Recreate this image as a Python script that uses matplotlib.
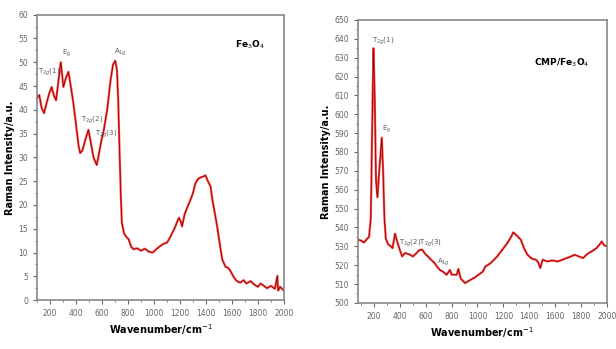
import matplotlib
matplotlib.use("Agg")
import matplotlib.pyplot as plt
from matplotlib.ticker import MultipleLocator

# Fe3O4 spectrum
fe_x = [100, 118, 135, 154, 175, 195, 213, 230, 247, 265, 283, 295, 303, 320, 342, 360,
        380, 400, 420, 432, 450, 470, 496, 515, 535, 560, 575, 595, 612, 640, 665, 685,
        702, 715, 725, 735, 745, 753, 770, 790, 805, 825, 843, 870, 900, 930, 960, 990,
        1010, 1040, 1070, 1101, 1130, 1160, 1191, 1205, 1216, 1235, 1255, 1280, 1300, 1319,
        1340, 1360, 1380, 1396, 1415, 1435, 1450, 1470, 1486, 1505, 1525, 1550, 1570, 1589,
        1610, 1630, 1650, 1666, 1690, 1710, 1744, 1770, 1800, 1820, 1846, 1870, 1900, 1930,
        1949, 1955, 1970, 1988, 2000]
fe_y = [42.5, 43.1, 40.5, 39.3, 41.5, 43.5, 44.8, 43.0, 42.0, 46.0, 50.0, 47.0, 44.8, 46.5,
        48.0, 45.0, 41.4, 37.0, 32.5, 30.9, 31.5, 33.5, 35.8, 33.0, 30.0, 28.4, 30.5, 33.5,
        35.4, 40.0, 46.0, 49.5, 50.3, 48.5, 42.0, 31.6, 22.0, 16.3, 14.0, 13.2, 12.8, 11.2,
        10.7, 10.9, 10.4, 10.8, 10.2, 10.0, 10.5, 11.2, 11.8, 12.1, 13.5, 15.2, 17.3, 16.6,
        15.5, 18.0, 19.4, 21.0, 22.5, 24.6, 25.5, 25.8, 26.0, 26.2, 25.0, 23.9, 21.0, 18.0,
        15.5, 12.0, 8.6, 7.0, 6.8, 6.1, 5.0, 4.2, 3.8, 3.7, 4.2, 3.5, 4.0, 3.3, 2.8, 3.5,
        3.0, 2.5, 3.0, 2.4, 5.1, 2.0, 2.8, 2.3, 2.0]

# CMP/Fe3O4 spectrum
cmp_x = [80, 100, 122, 140, 161, 175, 187, 195, 205, 215, 226, 240, 260, 270, 280, 291,
         310, 330, 343, 362, 382, 400, 417, 440, 461, 480, 500, 530, 550, 573, 595, 617,
         640, 669, 690, 709, 735, 761, 787, 800, 839, 852, 870, 904, 940, 980, 1008, 1040,
         1061, 1100, 1152, 1190, 1231, 1260, 1277, 1300, 1335, 1360, 1387, 1420, 1452, 1470,
         1486, 1504, 1540, 1580, 1622, 1660, 1700, 1752, 1790, 1817, 1850, 1883, 1920, 1945,
         1961, 1980, 2000]
cmp_y = [533.5, 533, 532, 533.5, 535, 545, 600, 635, 610, 565, 556, 570, 587.6, 570, 545,
         534, 531, 530, 529, 536.7, 531.8, 528, 524.6, 526.5, 526, 525.5, 524.6, 526.5, 528,
         528.2, 526, 524.6, 523, 521.1, 519, 517.5, 516.5, 514.9, 517.5, 515, 514.9, 518,
         513, 510.5, 512, 513.5, 515, 516.5, 519.3, 521, 524.6, 528, 531.7, 535, 537.4, 536,
         533.5, 529, 525.5, 523.5, 522.9, 521.5, 518.5, 522.9, 522, 522.5, 522, 523, 524,
         525.5, 524.5, 523.8, 526, 527.3, 529, 531, 532.6, 530.5, 530]

# peak labels
fe_labels = [(110, 47.5, r"T$_{2g}$(1)"), (290, 51.5, r"E$_g$"), (440, 37.5, r"T$_{2g}$(2)"),
             (545, 34.5, r"T$_{2g}$(3)"), (690, 51.8, r"A$_{1g}$")]
cmp_labels = [(185, 638, r"T$_{2g}$(1)"), (260, 591, r"E$_g$"),
              (390, 531, r"T$_{2g}$(2)T$_{2g}$(3)"), (690, 521, r"A$_{1g}$")]

fig = plt.figure(figsize=(6.16, 3.49), dpi=100)
ax1 = fig.add_axes([0.060, 0.140, 0.401, 0.818])
ax2 = fig.add_axes([0.581, 0.132, 0.404, 0.811])


def style_axis(ax):
    for s in ax.spines.values():
        s.set_color("#888888")
        s.set_linewidth(1.2)
    ax.tick_params(which="both", direction="out", labelsize=5.5, colors="#666666",
                   top=False, right=False)
    ax.tick_params(which="major", length=3)
    ax.tick_params(which="minor", length=1.5)
    ax.xaxis.set_major_locator(MultipleLocator(200))
    ax.xaxis.set_minor_locator(MultipleLocator(100))
    ax.set_xlabel(r"Wavenumber/cm$^{-1}$", fontsize=7, fontweight="bold", labelpad=3)
    ax.set_ylabel("Raman Intensity/a.u.", fontsize=7, fontweight="bold", labelpad=2)


# left panel
ax1.plot(fe_x, fe_y, color="#ff2020", lw=1.6, alpha=0.85)
ax1.plot(fe_x, fe_y, color="#7a0000", lw=0.5)
ax1.set_xlim(100, 2000)
ax1.set_ylim(0, 60)
ax1.yaxis.set_major_locator(MultipleLocator(5))
ax1.yaxis.set_minor_locator(MultipleLocator(2.5))
style_axis(ax1)
for x, y, t in fe_labels:
    ax1.text(x, y, t, fontsize=5, color="#556060")
ax1.text(1620, 53, r"Fe$_3$O$_4$", fontsize=6.5, fontweight="bold")

# right panel
ax2.plot(cmp_x, cmp_y, color="#ff2020", lw=1.6, alpha=0.85)
ax2.plot(cmp_x, cmp_y, color="#7a0000", lw=0.5)
ax2.set_xlim(75, 2000)
ax2.set_ylim(500, 650)
ax2.yaxis.set_major_locator(MultipleLocator(10))
ax2.yaxis.set_minor_locator(MultipleLocator(5))
style_axis(ax2)
for x, y, t in cmp_labels:
    ax2.text(x, y, t, fontsize=5, color="#556060")
ax2.text(1440, 626, r"CMP/Fe$_3$O$_4$", fontsize=6.5, fontweight="bold")

fig.savefig("out.png", dpi=100)
